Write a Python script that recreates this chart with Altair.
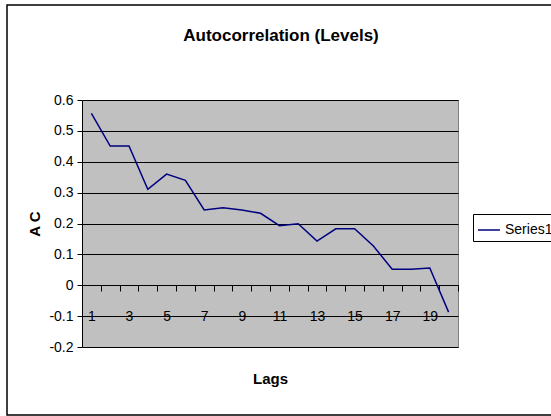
import altair as alt
import pandas as pd

lags = list(range(1, 21))
ac = [0.557, 0.451, 0.451, 0.311, 0.360, 0.340, 0.244, 0.251, 0.244, 0.233,
      0.193, 0.199, 0.143, 0.183, 0.183, 0.127, 0.052, 0.052, 0.056, -0.087]
series = ["Series1"] * len(lags)
y_ticks = [-0.2, -0.1, 0.0, 0.1, 0.2, 0.3, 0.4, 0.5, 0.6]

df = pd.DataFrame({"Lags": lags, "AC": ac, "series": series})

FONT = "Liberation Sans, Arial, sans-serif"

W, H = 376, 247
PL, PT = 82, 100

border = alt.Chart(pd.DataFrame({"d": [0]})).mark_rect(
    fill=None, stroke="black", strokeWidth=1.5
).encode(
    x=alt.value(7 - PL), x2=alt.value(560 - PL),
    y=alt.value(5 - PT), y2=alt.value(415 - PT),
)

line = alt.Chart(df).mark_line(strokeWidth=1.5).encode(
    x=alt.X("Lags:Q",
            scale=alt.Scale(domain=[0.5, 20.5], nice=False, zero=False),
            axis=alt.Axis(values=lags, offset=-62, tickOffset=9.4, labelOffset=-9.4,
                          labelExpr="datum.value % 2 == 1 ? datum.label : ''",
                          tickSize=6, tickColor="black", domainColor="black",
                          labelPadding=18, grid=False, labelFontSize=14,
                          labelFont=FONT, labelColor="black",
                          title="Lags", titleFont=FONT, titleFontSize=15,
                          titleFontWeight="bold", titlePadding=48)),
    y=alt.Y("AC:Q",
            scale=alt.Scale(domain=[-0.2, 0.6], nice=False),
            axis=alt.Axis(values=y_ticks, grid=True, gridColor="black", gridWidth=1,
                          labelExpr="datum.value == 0 ? '0' : replace(format(datum.value, '.1f'), '\u2212', '-')",
                          tickSize=5, tickColor="black", domainColor="black",
                          labelFontSize=14, labelFont=FONT, labelColor="black",
                          labelPadding=4,
                          title="A C", titleFont=FONT, titleFontSize=15,
                          titleFontWeight="bold", titlePadding=6)),
    color=alt.Color("series:N",
                    scale=alt.Scale(range=["#000080"]),
                    legend=alt.Legend(title=None, orient="none", legendX=391, legendY=114,
                                      symbolType="stroke", symbolSize=484,
                                      symbolStrokeWidth=1.5, strokeColor="black",
                                      padding=4, labelFont=FONT, labelFontSize=14,
                                      labelColor="black", fillColor="white")),
)

chart = alt.layer(border, line).properties(
    width=W, height=H,
    autosize=alt.AutoSizeParams(type="none"),
    padding={"left": PL, "top": PT, "right": 551 - PL - W, "bottom": 416 - PT - H},
    title=alt.TitleParams("Autocorrelation (Levels)", font=FONT, fontSize=17,
                          fontWeight="bold", color="black", anchor="middle",
                          dx=11, offset=-41),
).configure(
    background="white",
    view=alt.ViewConfig(fill="#C0C0C0", stroke="#808080", strokeWidth=1),
)

chart.save("out.html", embed_options={"renderer": "svg", "actions": False})
